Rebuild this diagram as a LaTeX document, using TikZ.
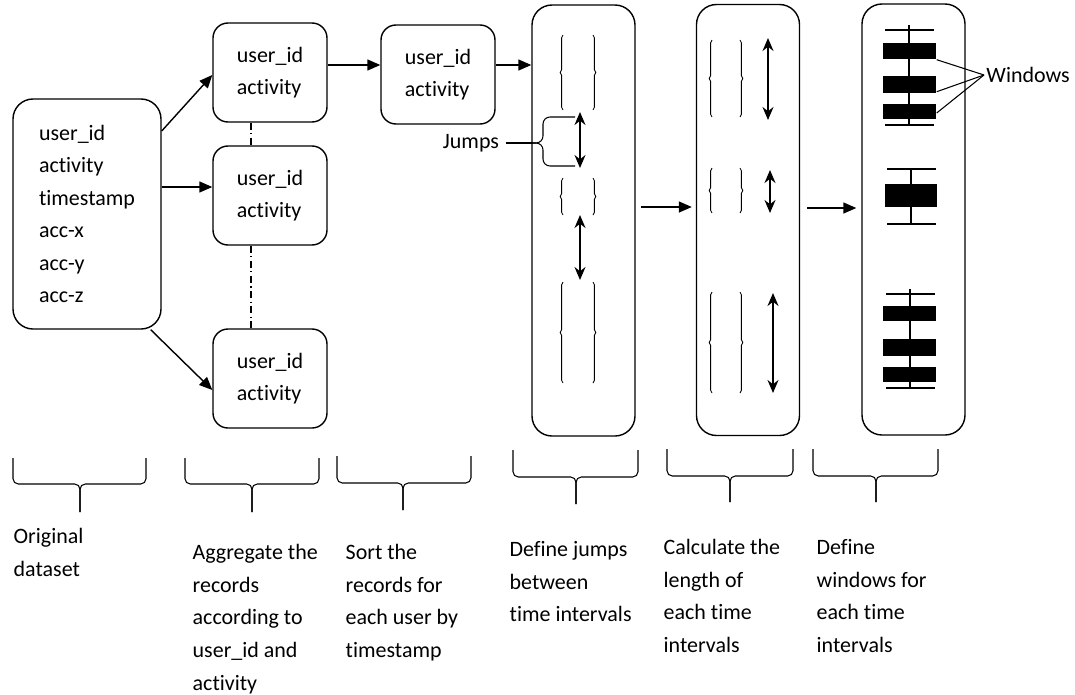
\documentclass[tikz,border=0pt]{standalone}
\usepackage{fontspec}
\setmainfont{Carlito}[Ligatures=NoCommon]
\usetikzlibrary{arrows.meta,positioning,decorations.pathreplacing}

\begin{document}
\begin{tikzpicture}[x=0.2mm, y=-0.2mm, line width=0.8pt,
        font=\fontsize{12.5}{18.5}\selectfont,
        record/.style={draw, rounded corners=3mm, align=left, inner sep=0pt,
            minimum width=22.8mm, minimum height=19.8mm},
        stage/.style={draw, rounded corners=4mm, minimum width=20.6mm, minimum height=86.2mm},
        arr/.style={-{Triangle[length=2.6mm,width=2.2mm]}},
        dbl/.style={{Stealth[length=2.6mm,width=2.2mm]}-{Stealth[length=2.6mm,width=2.2mm]}},
        ibrace/.style={decorate, decoration={brace, amplitude=1.6pt}, line width=0.5pt},
        sepline/.style={dash pattern=on 4pt off 2pt on 0.6pt off 2pt},
        win/.style={fill=black, inner sep=0pt, minimum width=10.6mm, minimum height=#1},
        win/.default=3.2mm,
        caption/.style={anchor=north west, align=left, inner sep=0pt}]

    \useasboundingbox (0,0) rectangle (1075,695);

    % Records: raw dataset, aggregated and sorted
    \node[record, minimum width=29.6mm, minimum height=46mm, rounded corners=4mm] (orig) at (87,214)
        {user\_id\\activity\\timestamp\\acc-x\\acc-y\\acc-z};
    \node[record] (agg1) at (270,72.5) {user\_id\\activity};
    \node[record] (agg2) at (270,195.5) {user\_id\\activity};
    \node[record] (agg3) at (270,378.5) {user\_id\\activity};
    \node[record] (sort) at (438,74.5) {user\_id\\activity};

    % The three tall processing stages
    \node[stage] (jmp) at (583.5,220.5) {};
    \node[stage] (len) at (748,220) {};
    \node[stage] (wnd) at (913.5,219.5) {};

    % Flow between the steps
    \draw[arr] ([yshift=16.6mm]orig.east) -- ([yshift=-0.5mm]agg1.west);
    \draw[arr] ([yshift=1.7mm]agg2.west -| orig.east) -- ([yshift=1.7mm]agg2.west);
    \draw[arr] ([xshift=-2.2mm]orig.south east) -- ([yshift=-2.3mm]agg3.west);
    \draw[arr] ([yshift=1.5mm]agg1.east) -- ([yshift=1.5mm]agg1.east -| sort.west);
    \draw[arr] ([yshift=1.9mm]sort.east) -- ([yshift=1.9mm]sort.east -| jmp.west);
    \draw[arr, shorten <=1mm, shorten >=0.8mm] ([yshift=2.7mm]jmp.east) -- ([yshift=2.7mm]jmp.east -| len.west);
    \draw[arr, shorten <=1.4mm, shorten >=1mm] ([yshift=2.4mm]len.east) -- ([yshift=2.4mm]len.east -| wnd.west);

    \draw[sepline] ([xshift=-3.8mm]agg1.south) -- ([xshift=-3.8mm]agg2.north);
    \draw[sepline] ([xshift=-3.8mm]agg2.south) -- ([xshift=-3.8mm]agg3.north);

    % Time intervals and the jumps between them
    \foreach \ya/\yb in {35/110, 178/215, 282/383} {
        \draw[ibrace] (563,\yb) -- (563,\ya);
        \draw[ibrace] (593,\ya) -- (593,\yb);
    }
    \draw[dbl] (580,112) -- (580,168);
    \draw[dbl] (580,215) -- (580,280);

    \node (jlab) at (471,143) {Jumps};
    \coordinate (jtip) at (533,143);
    \coordinate (jt) at (575,117);
    \coordinate (jb) at (575,166);
    \draw[line width=0.6pt] (jlab) -- (jtip);
    \draw[line width=0.6pt, rounded corners=4pt] (jt) -| ([xshift=2mm]jtip) -- (jtip);
    \draw[line width=0.6pt, rounded corners=4pt] (jb) -| ([xshift=2mm]jtip) -- (jtip);

    % Time intervals with their lengths
    \foreach \ya/\yb in {40/117, 168/213, 292/393} {
        \draw[ibrace] (712,\yb) -- (712,\ya);
        \draw[ibrace] (740,\ya) -- (740,\yb);
    }
    \foreach \x/\ya/\yb in {768/38/120, 770/170/213, 773/293/393}
        \draw[dbl] (\x,\ya) -- (\x,\yb);

    % Windows inside each interval
    \foreach \x/\ya/\yb/\ca/\cb in {909/25/125/30/125, 911/169/224/169/224, 910/289/388/294/388} {
        \draw (\x,\ya) -- (\x,\yb);
        \draw (\x-24,\ca) -- (\x+25,\ca);
        \draw (\x-24,\cb) -- (\x+25,\cb);
    }
    \node[win] (w1) at (909.5,51) {};
    \node[win=3.4mm] (w2) at (909.5,84.5) {};
    \node[win=3mm] (w3) at (909.5,111.5) {};
    \node[win=4.6mm, minimum width=10.4mm] (w4) at (911,195.5) {};
    \node[win=3mm] (w5) at (909.5,313.5) {};
    \node[win=3.4mm] (w6) at (909.5,347.5) {};
    \node[win=3mm] (w7) at (909.5,374.5) {};

    \node[anchor=west, inner sep=1pt] (wlab) at (984,75) {Windows};
    \draw[line width=0.6pt] (wlab.west) -- (w1.south east);
    \draw[line width=0.6pt] (wlab.west) -- ([yshift=0.4mm]w2.south east);
    \draw[line width=0.6pt] (wlab.west) -- ([yshift=-0.3mm]w3.east);

    % Braces under each step
    \foreach \xa/\xb/\xt/\ya/\yh/\yb in {13/146/80/458/484/512, 185/319/252/458/484/512,
            337/471/403/456/483/510, 513/638/576/450/477/504,
            667/793/730/449/476/502, 813/938/876/449/476/502} {
        \draw[line width=0.6pt, rounded corners=3pt] (\xa,\ya) |- (\xt,\yh) -- (\xt,\yb);
        \draw[line width=0.6pt, rounded corners=3pt] (\xb,\ya) |- (\xt,\yh) -- (\xt,\yb);
    }

    % Step descriptions
    \node[caption] (c1) at (13,528) {Original\\dataset};
    \node[caption] (c2) at (192,544) {Aggregate the\\records\\according to\\user\_id and\\activity};
    \node[caption] (c3) at (345,544) {Sort the\\records for\\each user by\\timestamp};
    \node[caption] (c4) at (509,541) {Define jumps\\between\\time intervals};
    \node[caption] (c5) at (663,539) {Calculate the\\length of\\each time\\intervals};
    \node[caption] (c6) at (816,539) {Define\\windows for\\each time\\intervals};
\end{tikzpicture}
\end{document}
